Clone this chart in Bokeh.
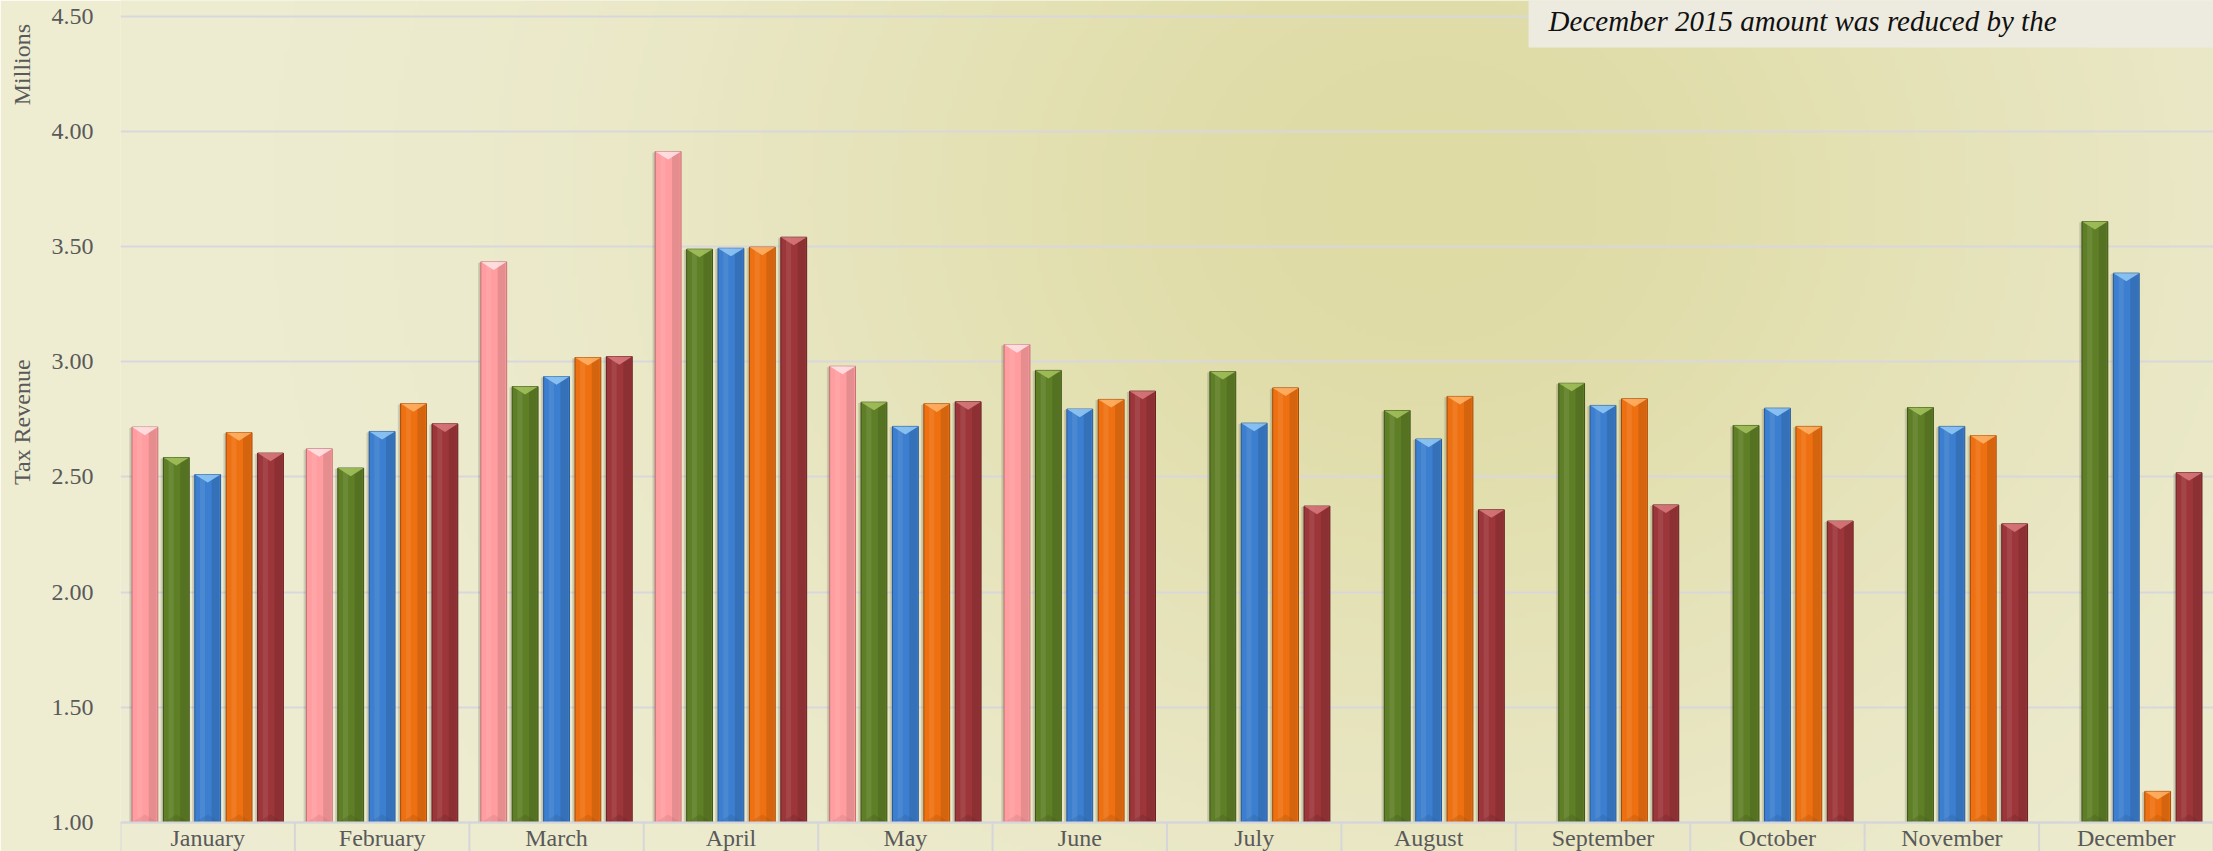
import numpy as np
from bokeh.plotting import figure
from bokeh.models import (Range1d, FixedTicker, PrintfTickFormatter, Span, Label,
                          BoxAnnotation, LinearAxis)
from bokeh.embed import file_html
from bokeh.resources import INLINE
from bokeh.core.properties import value

# ---------------- data ----------------
months = ["January", "February", "March", "April", "May", "June",
          "July", "August", "September", "October", "November", "December"]
series_pink = [2.716, 2.622, 3.433, 3.912, 2.980, 3.074, None, None, None, None, None, None]
series_green = [2.584, 2.538, 2.892, 3.488, 2.824, 2.962, 2.957, 2.788, 2.906, 2.723, 2.801, 3.608]
series_blue = [2.510, 2.697, 2.935, 3.492, 2.719, 2.794, 2.733, 2.664, 2.810, 2.798, 2.719, 3.384]
series_orange = [2.692, 2.818, 3.018, 3.497, 2.817, 2.836, 2.886, 2.849, 2.839, 2.719, 2.679, 1.135]
series_red = [2.603, 2.730, 3.022, 3.540, 2.826, 2.872, 2.373, 2.357, 2.378, 2.308, 2.296, 2.518]
y_ticks = [1.00, 1.50, 2.00, 2.50, 3.00, 3.50, 4.00, 4.50]
y_title = "Tax Revenue"
y_unit = "Millions"
note_text = "December 2015 amount was reduced by the"

# ---------------- styles ----------------
styles = [
    (series_pink,   "#FF9DA0", "#C47276", "#FFE6E7"),
    (series_green,  "#5F7F27", "#3E5418", "#A6C35E"),
    (series_blue,   "#3C7ECF", "#285A99", "#93CAF6"),
    (series_orange, "#EE7011", "#A54B08", "#FFB468"),
    (series_red,    "#9C363A", "#672124", "#DB7B7F"),
]
BAR_W = 0.148
STEP = 0.18
CAP_H = 0.035
BASE = 1.0
Y0, Y1 = 0.8741, 4.5673
FONT = "Liberation Serif"
GREY = "#595959"
W, H = 2213, 851
LEFT = 120
TITLE_POS = 2.737   # vertical centre of the axis title
UNIT_POS = 4.289    # vertical centre of the unit label

p = figure(width=W, height=H, output_backend="svg", toolbar_location=None,
           title=None, x_axis_location=None,
           x_range=Range1d(0, len(months)), y_range=Range1d(Y0, Y1),
           min_border_left=LEFT, min_border_right=0, min_border_top=0, min_border_bottom=0)
p.background_fill_color = "#EEEDD2"
p.border_fill_color = "#EEEDD2"
p.outline_line_color = None
p.xgrid.grid_line_color = None

# background glow (decoration)
nx, ny = 420, 170
gx = LEFT + (np.arange(nx) + 0.5) * ((W - LEFT) / nx)
gy = H - (np.arange(ny) + 0.5) * (H / ny)
GX, GY = np.meshgrid(gx, gy)
t = np.exp(-((GX - 1430) / 700.0) ** 2 - ((GY - 200) / 600.0) ** 2)
pale = np.array([238, 237, 211], dtype=float)
dark = np.array([223, 219, 165], dtype=float)
rgb = pale[None, None, :] + t[:, :, None] * (dark - pale)[None, None, :]
img = np.empty((ny, nx), dtype=np.uint32)
view = img.view(dtype=np.uint8).reshape((ny, nx, 4))
view[:, :, 0:3] = np.clip(rgb, 0, 255).astype(np.uint8)
view[:, :, 3] = 255
bg = p.image_rgba(image=[img], x=0, y=Y0, dw=len(months), dh=Y1 - Y0)
bg.level = "image"


def plain_axis(a):
    a.axis_line_color = None
    a.major_tick_line_color = None
    a.minor_tick_line_color = None
    a.major_tick_out = 0
    a.major_tick_in = 0
    a.minor_tick_out = 0
    a.minor_tick_in = 0
    a.major_label_text_font = FONT
    a.major_label_text_font_size = "24px"
    a.major_label_text_color = GREY


# grid / y axis (tick values)
p.ygrid.grid_line_color = "#D8D8DC"
p.ygrid.grid_line_width = 2
p.ygrid.ticker = FixedTicker(ticks=y_ticks)
ax = p.yaxis[0]
plain_axis(ax)
ax.ticker = FixedTicker(ticks=y_ticks)
ax.formatter = PrintfTickFormatter(format="%.2f")
ax.major_label_standoff = 27

# outer left axis carrying the rotated title and unit texts in one column
tax = LinearAxis(ticker=FixedTicker(ticks=[TITLE_POS, UNIT_POS]),
                 major_label_overrides={TITLE_POS: y_title, UNIT_POS: y_unit},
                 major_label_orientation="vertical")
plain_axis(tax)
tax.major_label_standoff = 13
p.add_layout(tax, "left")

# bars
for k, (vals, fill, line, cap) in enumerate(styles):
    xs = [i + 0.5 + (k - 2) * STEP for i, v in enumerate(vals) if v is not None]
    tops = [v for v in vals if v is not None]
    # shadow
    p.vbar(x=[x - 0.016 for x in xs], top=[v - 0.004 for v in tops], bottom=BASE,
           width=BAR_W, fill_color="black", fill_alpha=0.12, line_color=None)
    p.vbar(x=[x - 0.008 for x in xs], top=tops, bottom=BASE,
           width=BAR_W, fill_color="black", fill_alpha=0.07, line_color=None)
    # main bar
    p.vbar(x=xs, top=tops, bottom=BASE, width=BAR_W, fill_color=fill,
           line_color=line, line_width=1)
    # side shading
    p.vbar(x=[x + BAR_W * 0.3 for x in xs], top=tops, bottom=BASE, width=BAR_W * 0.3,
           fill_color="black", fill_alpha=0.10, line_color=None)
    p.vbar(x=[x - BAR_W * 0.2 for x in xs], top=tops, bottom=BASE, width=BAR_W * 0.2,
           fill_color="white", fill_alpha=0.08, line_color=None)
    # top bevel
    p.patches(xs=[[x - BAR_W / 2, x + BAR_W / 2, x] for x in xs],
              ys=[[v, v, v - CAP_H] for v in tops],
              fill_color=cap, fill_alpha=0.85, line_color=None)
    # bottom bevel
    p.patches(xs=[[x - BAR_W / 2, x + BAR_W / 2, x] for x in xs],
              ys=[[BASE, BASE, BASE + CAP_H] for _ in tops],
              fill_color=line, fill_alpha=0.25, line_color=None)

# category axis drawn inside the frame
p.add_layout(Span(location=BASE, dimension="width", line_color="#D6D6DA", line_width=2))
bounds = list(range(len(months) + 1))
p.segment(x0=bounds, y0=[BASE] * len(bounds), x1=bounds, y1=[Y0 - 0.1] * len(bounds),
          line_color="#D6D6DA", line_width=2)
p.text(x=[i + 0.5 for i in range(len(months))], y=[BASE - 0.011] * len(months), text=months,
       text_font=value(FONT), text_font_size="24px", text_color=GREY,
       text_align="center", text_baseline="top")

# note box at top right
p.add_layout(BoxAnnotation(left=8.073, right=13, bottom=4.363, top=5,
                           fill_color="#EDEBDF", fill_alpha=1.0, line_color=None))
p.add_layout(Label(x=8.188, y=4.480, text=note_text, text_font=FONT,
                   text_font_style="italic", text_font_size="29px", text_color="#111111",
                   text_baseline="alphabetic"))

open("out.html", "w").write(file_html(p, INLINE))
